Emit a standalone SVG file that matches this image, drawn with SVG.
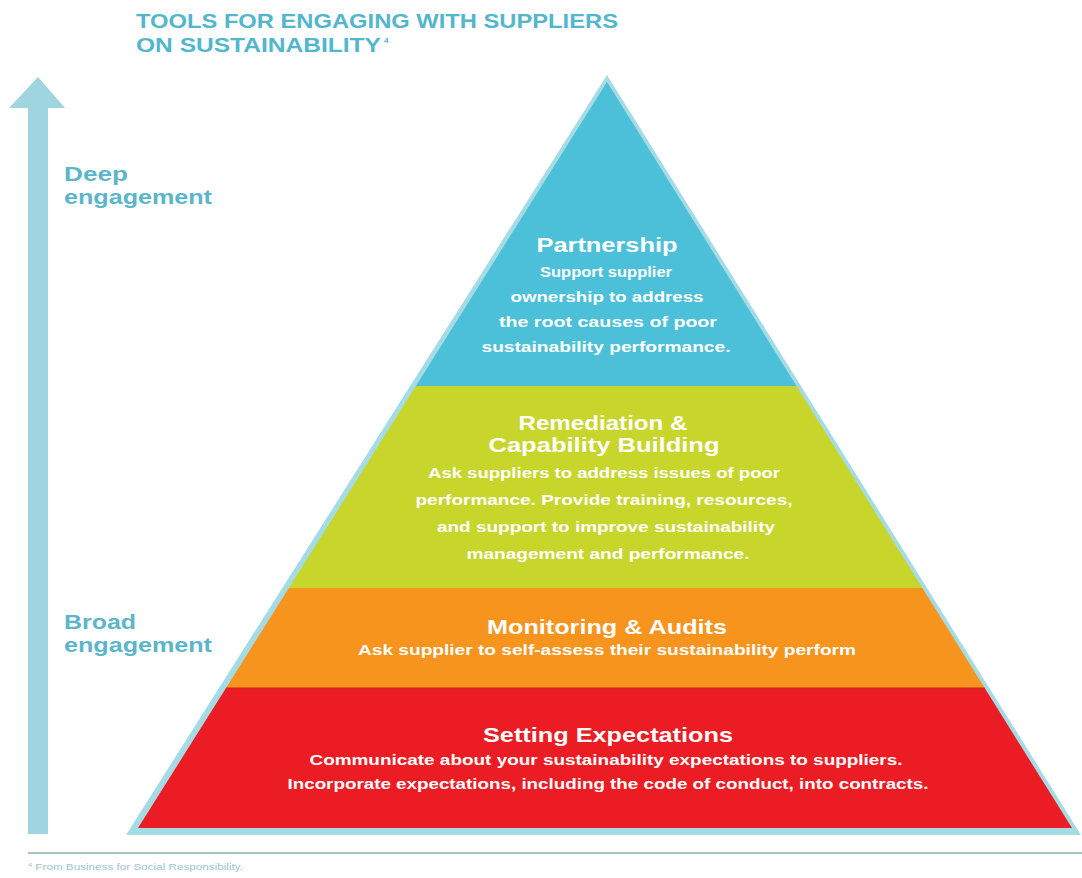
<svg xmlns="http://www.w3.org/2000/svg" width="1082" height="878" viewBox="0 0 1082 878">
<style>
.title{font-family:"Liberation Sans",Arial,sans-serif;font-weight:bold;font-size:20px;fill:#52b6cd}
.side{font-family:"Liberation Sans",Arial,sans-serif;font-weight:bold;font-size:20px;fill:#5cb6ca}
.lt{font-family:"Liberation Sans",Arial,sans-serif;font-weight:bold;font-size:21px;fill:#ffffff;text-anchor:middle}
.lb{font-family:"Liberation Sans",Arial,sans-serif;font-weight:bold;font-size:14.5px;fill:#ffffff;text-anchor:middle}
.foot{font-family:"Liberation Sans",Arial,sans-serif;font-size:9.5px;fill:#9cc6ca}
</style>
<rect width="1082" height="878" fill="#ffffff"/>
<g id="title">
<text class="title" x="136" y="28" textLength="482" lengthAdjust="spacingAndGlyphs">TOOLS FOR ENGAGING WITH SUPPLIERS</text>
<text class="title" x="136" y="52" textLength="245" lengthAdjust="spacingAndGlyphs">ON SUSTAINABILITY</text>
<text class="title" x="384" y="43" style="font-size:8px">4</text>
</g>
<g id="connectors">
<polygon points="38,77 65,108 48,108 48,834 28,834 28,108 9,108" fill="#9fd5e1"/>
</g>
<g id="axis-labels">
<text class="side" x="64" y="181" textLength="64" lengthAdjust="spacingAndGlyphs">Deep</text>
<text class="side" x="64" y="203.5" textLength="148" lengthAdjust="spacingAndGlyphs">engagement</text>
<text class="side" x="64" y="629" textLength="72" lengthAdjust="spacingAndGlyphs">Broad</text>
<text class="side" x="64" y="651.5" textLength="148" lengthAdjust="spacingAndGlyphs">engagement</text>
</g>
<g id="pyramid-outline">
<polygon points="607,75 1081,835 126,835" fill="#a5dbe5"/>
</g>
<g id="partnership">
<polygon points="607,82 796.5,386 415.9,386" fill="#4cbfd9"/>
<text class="lt" x="607" y="252" textLength="141" lengthAdjust="spacingAndGlyphs">Partnership</text>
<text class="lb" x="606" y="277" textLength="132" lengthAdjust="spacingAndGlyphs">Support supplier</text>
<text class="lb" x="607" y="302" textLength="193" lengthAdjust="spacingAndGlyphs">ownership to address</text>
<text class="lb" x="608" y="327" textLength="218" lengthAdjust="spacingAndGlyphs">the root causes of poor</text>
<text class="lb" x="606" y="352" textLength="249" lengthAdjust="spacingAndGlyphs">sustainability performance.</text>
</g>
<g id="remediation">
<polygon points="415.9,386 796.5,386 922.4,588 288.9,588" fill="#c8d62b"/>
<text class="lt" x="603" y="430" textLength="169" lengthAdjust="spacingAndGlyphs">Remediation &amp;</text>
<text class="lt" x="604" y="452" textLength="231" lengthAdjust="spacingAndGlyphs">Capability Building</text>
<text class="lb" x="604" y="478" textLength="352" lengthAdjust="spacingAndGlyphs">Ask suppliers to address issues of poor</text>
<text class="lb" x="604" y="505" textLength="377" lengthAdjust="spacingAndGlyphs">performance. Provide training,  resources,</text>
<text class="lb" x="606" y="532" textLength="338" lengthAdjust="spacingAndGlyphs">and support to improve sustainability</text>
<text class="lb" x="608" y="559" textLength="283" lengthAdjust="spacingAndGlyphs">management and performance.</text>
</g>
<g id="monitoring">
<polygon points="288.9,588 922.4,588 984.7,688 226,688" fill="#f7941e"/>
<text class="lt" x="607" y="634" textLength="240" lengthAdjust="spacingAndGlyphs">Monitoring &amp; Audits</text>
<text class="lb" x="607" y="655" textLength="498" lengthAdjust="spacingAndGlyphs">Ask supplier to self-assess their sustainability perform</text>
</g>
<g id="setting-expectations">
<polygon points="226,688 984.7,688 1072,828 138,828" fill="#ec1c24"/>
<line x1="226" y1="688.5" x2="984.7" y2="688.5" stroke="#d8241c" stroke-width="2"/>
<text class="lt" x="608" y="742" textLength="250" lengthAdjust="spacingAndGlyphs">Setting Expectations</text>
<text class="lb" x="606" y="765" textLength="593" lengthAdjust="spacingAndGlyphs">Communicate about your sustainability expectations to suppliers.</text>
<text class="lb" x="608" y="789" textLength="641" lengthAdjust="spacingAndGlyphs">Incorporate expectations, including the code of conduct, into contracts.</text>
</g>
<g id="footnote">
<line x1="28" y1="853" x2="1082" y2="853" stroke="#a3c5c6" stroke-width="2"/>
<text class="foot" x="28" y="870" textLength="215" lengthAdjust="spacingAndGlyphs"><tspan style="font-size:6px" dy="-3">4</tspan><tspan dy="3"> From Business for Social Responsibility.</tspan></text>
</g>
</svg>
